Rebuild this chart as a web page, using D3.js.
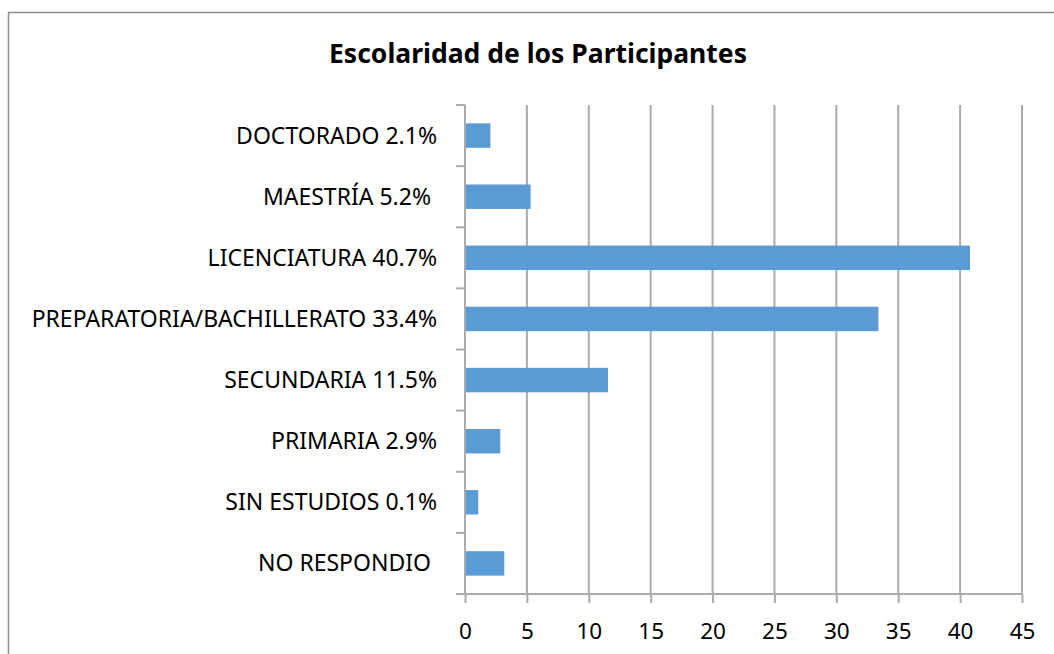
<!DOCTYPE html>
<html>
<head>
<meta charset="utf-8">
<script src="https://cdn.jsdelivr.net/npm/d3@7"></script>
<style>
  body { margin: 0; background: #fff; }
  text { font-family: "Noto Sans", "Open Sans", sans-serif; white-space: pre; }
</style>
</head>
<body>
<div id="chart"></div>
<script>
// chart data
var categories = [
  "DOCTORADO 2.1%",
  "MAESTRÍA 5.2% ",
  "LICENCIATURA 40.7%",
  "PREPARATORIA/BACHILLERATO 33.4%",
  "SECUNDARIA 11.5%",
  "PRIMARIA 2.9%",
  "SIN ESTUDIOS 0.1%",
  "NO RESPONDIO "
];
var values = [2.05, 5.3, 40.8, 33.4, 11.55, 2.85, 1.07, 3.17];
var xTicks = [0, 5, 10, 15, 20, 25, 30, 35, 40, 45];
var title = "Escolaridad de los Participantes";

var width = 1054, height = 654;
var plot = { left: 465, right: 1022, top: 105, bottom: 594 };
var gridColor = "#ababab";

var svg = d3.select("#chart").append("svg")
  .attr("width", width)
  .attr("height", height);

// outer chart frame (cut off at right/bottom like the picture)
svg.append("rect")
  .attr("x", 8.5).attr("y", 12.5)
  .attr("width", 1100).attr("height", 700)
  .attr("fill", "none")
  .attr("stroke", "#8f8f8f")
  .attr("stroke-width", 1.5);

svg.append("text")
  .attr("x", 538).attr("y", 63)
  .attr("text-anchor", "middle")
  .attr("font-weight", "bold")
  .attr("font-size", 26.5)
  .text(title);

var x = d3.scaleLinear().domain([0, 45]).range([plot.left, plot.right]);
var y = d3.scaleBand().domain(categories).range([plot.top, plot.bottom]).paddingInner(0.6).paddingOuter(0.3);
var yb = d3.scaleBand().domain(categories).range([plot.top, plot.bottom]);

// vertical gridlines
svg.append("g").selectAll("line")
  .data(xTicks.slice(1))
  .enter().append("line")
  .attr("x1", function (d) { return x(d); })
  .attr("x2", function (d) { return x(d); })
  .attr("y1", plot.top).attr("y2", plot.bottom)
  .attr("stroke", gridColor).attr("stroke-width", 2);

// bars
svg.append("g").selectAll("rect")
  .data(values)
  .enter().append("rect")
  .attr("x", x(0))
  .attr("y", function (d, i) { return y(categories[i]); })
  .attr("width", function (d) { return x(d) - x(0); })
  .attr("height", y.bandwidth())
  .attr("fill", "#5b9bd5");

// x axis
var xAxis = svg.append("g")
  .attr("transform", "translate(0," + plot.bottom + ")")
  .call(d3.axisBottom(x).tickValues(xTicks).tickSize(9).tickSizeOuter(0));
xAxis.select(".domain").attr("stroke", gridColor).attr("stroke-width", 2)
  .attr("d", "M" + (plot.left - 9) + ",0H" + plot.right);
xAxis.selectAll(".tick line").attr("stroke", gridColor).attr("stroke-width", 2);
xAxis.selectAll(".tick text")
  .attr("fill", "#000").attr("font-size", 22.5).attr("dy", null).attr("y", 45)
  .style("font-family", "\"Noto Sans\", sans-serif");

// y axis with ticks on category boundaries
var yAxis = svg.append("g").attr("transform", "translate(" + plot.left + ",0)");
yAxis.append("line")
  .attr("x1", 0).attr("x2", 0)
  .attr("y1", plot.top).attr("y2", plot.bottom)
  .attr("stroke", gridColor).attr("stroke-width", 2);
yAxis.selectAll(".bt")
  .data(categories)
  .enter().append("line")
  .attr("class", "bt")
  .attr("x1", -9).attr("x2", 0)
  .attr("y1", function (d) { return yb(d); })
  .attr("y2", function (d) { return yb(d); })
  .attr("stroke", gridColor).attr("stroke-width", 2);
yAxis.selectAll(".lbl")
  .data(categories)
  .enter().append("text")
  .attr("class", "lbl")
  .attr("x", 437 - plot.left)
  .attr("y", function (d) { return yb(d) + yb.bandwidth() / 2; })
  .attr("dy", "0.35em")
  .attr("text-anchor", "end")
  .attr("font-size", 23)
  .text(function (d) { return d; });
</script>
</body>
</html>
